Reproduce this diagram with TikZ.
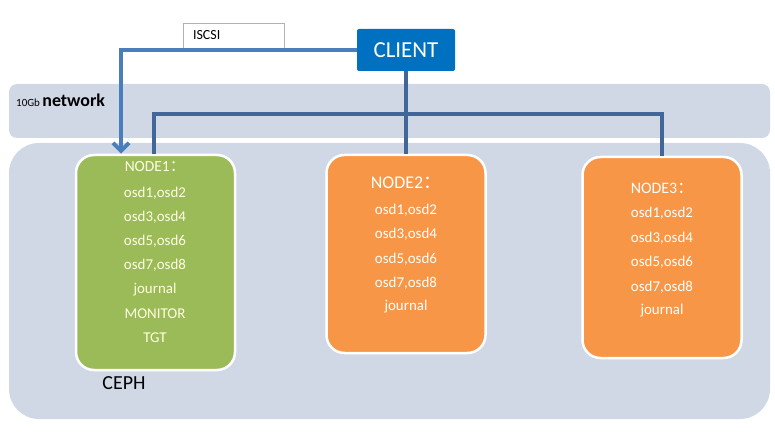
\documentclass[tikz,border=0pt]{standalone}
\usepackage{fontspec}
\setmainfont{Carlito}
\newfontfamily\cjk{Noto Sans CJK SC}
\usetikzlibrary{arrows.meta}
\definecolor{bandgray}{HTML}{D0D7E5}
\definecolor{clientblue}{HTML}{0070C0}
\definecolor{nodegreen}{HTML}{9BBB59}
\definecolor{nodeorange}{HTML}{F79646}
\definecolor{arrowblue}{HTML}{4A7EBB}
\definecolor{busblue}{HTML}{41679A}
\definecolor{paletext}{HTML}{FFFFE0}
\begin{document}
\begin{tikzpicture}[x=1bp,y=-1bp,
  box/.style={draw=white,line width=2.5bp,rounded corners=18bp,minimum width=159bp},
  osd/.style={font=\fontsize{15}{18}\selectfont,inner sep=0pt},
  link/.style={draw=arrowblue,line width=4bp},
  bus/.style={draw=busblue,line width=3.5bp}]
\useasboundingbox (0,0) rectangle (775,436);
\path[fill=bandgray,rounded corners=8bp] (9,84) rectangle (770,138);
\path[fill=bandgray,rounded corners=30bp] (9,143) rectangle (770,419);

\node[anchor=base west,inner sep=0pt] (netlabel) at (16,107) {\fontsize{11}{13}\selectfont 10Gb \fontsize{18}{20}\selectfont\bfseries network};

\node[fill=clientblue,rounded corners=2bp,minimum width=98bp,minimum height=42bp,text=white,font=\fontsize{23}{26}\selectfont] (client) at (406,50) {CLIENT};
\node[draw=black!30,fill=white,minimum height=25bp,text width=81bp,inner xsep=10bp,align=left,font=\fontsize{14}{16}\selectfont] (iscsi) at (233.5,35.5) {ISCSI};

\node[box,fill=nodegreen,minimum height=215bp] (node1) at (155.5,262.5) {};
\node[box,fill=nodeorange,minimum height=198bp] (node2) at (406,254) {};
\node[box,fill=nodeorange,minimum height=201bp] (node3) at (662,257.5) {};

\node[osd,text=paletext,font=\fontsize{15.5}{18}\selectfont] (n1h) at (155,167) {NODE1{\cjk ：}};
\node[osd,text=paletext] (n1a) at (155,193) {osd1,osd2};
\node[osd,text=paletext] (n1b) at (155,217) {osd3,osd4};
\node[osd,text=paletext] (n1c) at (155,241) {osd5,osd6};
\node[osd,text=paletext] (n1d) at (155,265) {osd7,osd8};
\node[osd,text=paletext] (n1e) at (155,290) {journal};
\node[osd,text=paletext] (n1f) at (155,314) {MONITOR};
\node[osd,text=paletext] (n1g) at (155,338) {TGT};

\node[osd,text=white,font=\fontsize{18}{20}\selectfont] (n2h) at (406,183) {NODE2{\cjk ：}};
\node[osd,text=white] (n2a) at (406,210) {osd1,osd2};
\node[osd,text=white] (n2b) at (406,234) {osd3,osd4};
\node[osd,text=white] (n2c) at (406,259) {osd5,osd6};
\node[osd,text=white] (n2d) at (406,283) {osd7,osd8};
\node[osd,text=white] (n2e) at (406,307) {journal};

\node[osd,text=white,font=\fontsize{16}{18}\selectfont] (n3h) at (662,188) {NODE3{\cjk ：}};
\node[osd,text=white] (n3a) at (662,213) {osd1,osd2};
\node[osd,text=white] (n3b) at (662,238) {osd3,osd4};
\node[osd,text=white] (n3c) at (662,262) {osd5,osd6};
\node[osd,text=white] (n3d) at (662,287) {osd7,osd8};
\node[osd,text=white] (n3e) at (662,311) {journal};

\node[font=\fontsize{20}{22}\selectfont] (ceph) at (124,383) {CEPH};

\coordinate (busline) at (0,114);
\path[link,-{Straight Barb[length=8bp,width=16bp]}] (client.west) -| ([xshift=-34.5bp]node1.north);
\path[bus] (client.south) -- (node2.north);
\path[bus] ([xshift=-1.5bp]node1.north) |- (busline -| node3.north) -- (node3.north);
\end{tikzpicture}
\end{document}
